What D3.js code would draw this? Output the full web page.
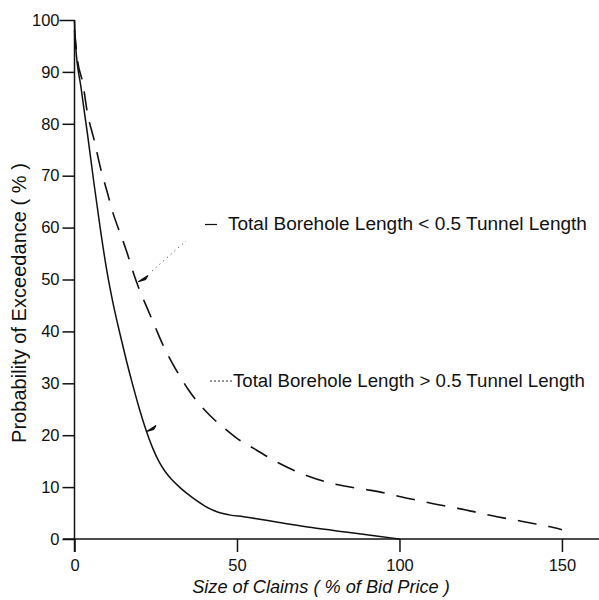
<!DOCTYPE html>
<html>
<head>
<meta charset="utf-8">
<script src="https://cdn.jsdelivr.net/npm/d3@7"></script>
<style>
  body { margin: 0; background: #fff; }
  text { font-family: "Liberation Sans", Arial, sans-serif; fill: #111; }
</style>
</head>
<body>
<script>
(function(d3) {
  var width = 599;
  var height = 600;

  // data: [size of claims %, probability %]
  var lessThanHalf = [[0, 98], [1, 92], [2.5, 88], [4, 82], [6, 77], [8, 71.5], [10, 67], [12, 62.5],
    [14, 59], [16, 55.5], [18, 51.5], [20, 48], [22.5, 44.3], [25, 40.6], [27.5, 37], [30, 34],
    [32.5, 31.3], [35, 28.8], [38, 26.3], [42, 23.6], [46, 21.4], [50, 19.4], [55, 17.5], [59, 16],
    [63, 14.6], [68, 13.1], [72, 12.1], [78, 10.9], [83, 10.2], [90, 9.5], [96, 8.8], [100, 8.2],
    [106, 7.4], [112, 6.6], [118, 5.9], [124, 5.1], [130, 4.3], [136, 3.6], [142, 2.9], [146, 2.4], [150, 1.8]];
  var moreThanHalf = [[0, 100], [0.3, 95.5], [2, 87], [4, 78], [6, 68.5], [8, 59.5], [10, 51.5],
    [12, 45], [14, 39.5], [16, 34.3], [18, 29.5], [20, 25], [22, 21], [24, 17.6], [26, 14.9],
    [28, 12.9], [30, 11.4], [33, 9.6], [36, 8.1], [40, 6.4], [44, 5.2], [48, 4.6], [52, 4.3],
    [56, 3.9], [63, 3.2], [73, 2.2], [84, 1.3], [94, 0.5], [100, 0]];
  var xTicks = [0, 50, 100, 150];
  var yTicks = [0, 10, 20, 30, 40, 50, 60, 70, 80, 90, 100];
  var labelLess = "Total Borehole Length < 0.5 Tunnel Length";
  var labelMore = "Total Borehole Length > 0.5 Tunnel Length";

  var svg = d3.select("body").append("svg").attr("width", width).attr("height", height);

  var x = d3.scaleLinear().domain([0, 161.4]).range([74.5, 599]);
  var y = d3.scaleLinear().domain([0, 100]).range([539, 20]);

  // scale a text's font so it spans the width seen in the picture
  function fit(sel, target) {
    var w = sel.node().getComputedTextLength();
    sel.attr("font-size", (16 * target / w).toFixed(2) + "px");
  }

  // x axis
  var xAxis = svg.append("g").attr("transform", "translate(0," + y(0) + ")")
    .call(d3.axisBottom(x).tickValues(xTicks).tickSize(13).tickPadding(6).tickFormat(d3.format("d")));
  xAxis.select(".domain").attr("d", "M" + 63 + ",0H" + width);
  // y axis
  var yAxis = svg.append("g").attr("transform", "translate(" + x(0) + ",0)")
    .call(d3.axisLeft(y).tickValues(yTicks).tickSize(12).tickPadding(3).tickFormat(d3.format("d")));
  yAxis.select(".domain").attr("d", "M0," + y(100) + "V" + (y(0) + 13));
  yAxis.selectAll(".tick").filter(function(d) { return d === 100; }).select("line").attr("x2", -15);

  svg.selectAll(".domain, .tick line").attr("stroke", "#111").attr("stroke-width", 1.5);
  svg.selectAll(".tick text").attr("font-size", "16.5px").attr("fill", "#111")
    .attr("font-family", "'Liberation Sans', Arial, sans-serif");
  xAxis.selectAll(".tick text").attr("dy", "0.35em").attr("y", 26);

  // axis titles
  var xTitle = svg.append("text").attr("x", 321).attr("y", 593).attr("text-anchor", "middle")
    .attr("font-size", "16px").attr("font-style", "italic").text("Size of Claims ( % of Bid Price )");
  fit(xTitle, 258);
  var yTitle = svg.append("text").attr("transform", "translate(26,303) rotate(-90)").attr("text-anchor", "middle")
    .attr("font-size", "16px").text("Probability of Exceedance ( % )");
  fit(yTitle, 280);

  var line = d3.line().x(function(d) { return x(d[0]); }).y(function(d) { return y(d[1]); })
    .curve(d3.curveMonotoneX);

  svg.append("path").datum(lessThanHalf).attr("d", line).attr("fill", "none")
    .attr("stroke", "#111").attr("stroke-width", 1.6).attr("stroke-dasharray", "19,12");
  svg.append("path").datum(moreThanHalf).attr("d", line).attr("fill", "none")
    .attr("stroke", "#111").attr("stroke-width", 1.5);

  // annotation for the dashed curve
  svg.append("path").attr("d", "M138.3,281.7L148,275.5L145.5,279.5Z").attr("fill", "#111")
    .attr("stroke", "#111").attr("stroke-width", 1.2);
  svg.append("line").attr("x1", 152).attr("y1", 271).attr("x2", 186).attr("y2", 241)
    .attr("stroke", "#333").attr("stroke-width", 1).attr("stroke-dasharray", "1,4");
  svg.append("line").attr("x1", 205).attr("y1", 224.5).attr("x2", 217).attr("y2", 224.5)
    .attr("stroke", "#111").attr("stroke-width", 1.2);
  var tLess = svg.append("text").attr("x", 228).attr("y", 230).attr("font-size", "16px").text(labelLess);
  fit(tLess, 359);

  // annotation for the solid curve
  svg.append("path").attr("d", "M146.7,431.5L156,425.5L153.5,429.5Z").attr("fill", "#111")
    .attr("stroke", "#111").attr("stroke-width", 1.2);
  svg.append("line").attr("x1", 210).attr("y1", 381).attr("x2", 232).attr("y2", 381)
    .attr("stroke", "#333").attr("stroke-width", 1).attr("stroke-dasharray", "2,2");
  var tMore = svg.append("text").attr("x", 233).attr("y", 387).attr("font-size", "16px").text(labelMore);
  fit(tMore, 352);
})(d3);
</script>
</body>
</html>
